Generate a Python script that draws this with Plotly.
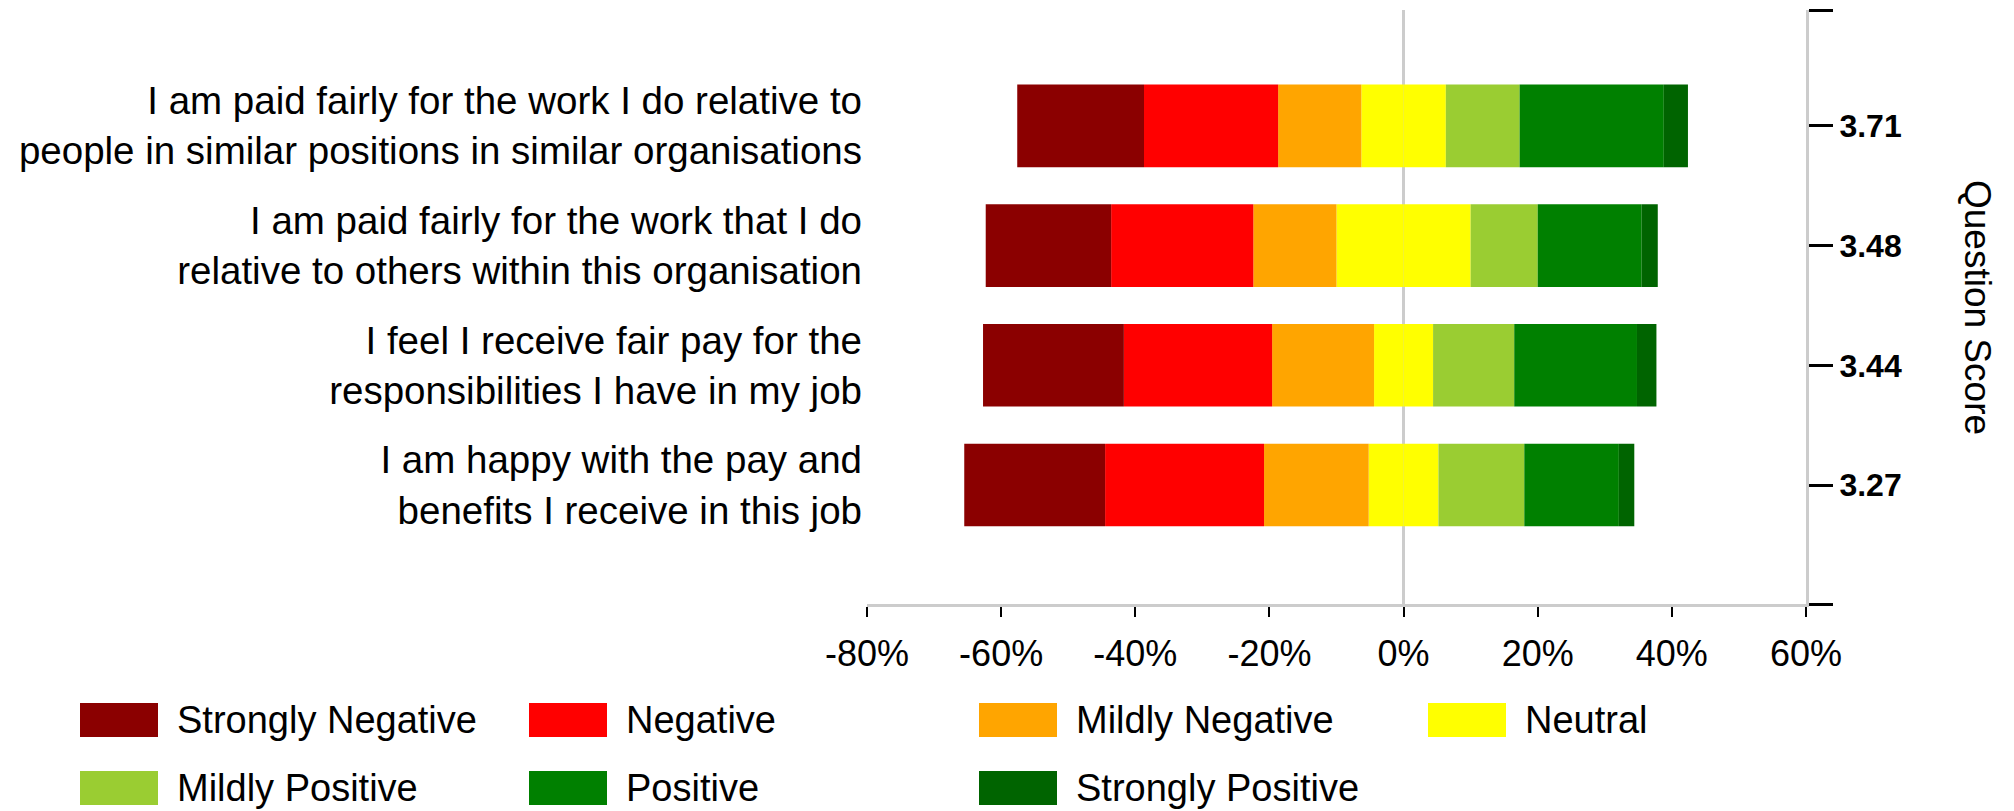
import plotly.graph_objects as go

# Survey questions, listed bottom to top
questions = [
    "I am happy with the pay and<br>benefits I receive in this job",
    "I feel I receive fair pay for the<br>responsibilities I have in my job",
    "I am paid fairly for the work that I do<br>relative to others within this organisation",
    "I am paid fairly for the work I do relative to<br>people in similar positions in similar organisations",
]
scores = ["3.27", "3.44", "3.48", "3.71"]

# Response shares (%) per question, same order as `questions`
strongly_negative = [21.0, 21.0, 18.7, 18.9]
negative = [23.7, 22.1, 21.2, 20.0]
mildly_negative = [15.6, 15.2, 12.4, 12.4]
neutral = [10.4, 8.8, 20.0, 12.6]
mildly_positive = [12.8, 12.1, 10.0, 11.0]
positive = [14.1, 18.3, 15.5, 21.5]
strongly_positive = [2.3, 2.9, 2.4, 3.6]

x_ticks = [-80, -60, -40, -20, 0, 20, 40, 60]

names = ["Strongly Negative", "Negative", "Mildly Negative", "Neutral",
         "Mildly Positive", "Positive", "Strongly Positive"]
colors = ["#8B0000", "#FF0000", "#FFA500", "#FFFF00",
          "#9ACD32", "#008000", "#006400"]

FONT = "Liberation Sans, Arial, sans-serif"
W, H = 2014, 811
L, R, T, B = 867, 208, 10, 207
PW, PH = W - L - R, H - T - B
Y_RANGE = [-0.994, 3.968]


def px_x(px):
    return (px - L) / PW


def px_y(py):
    return (T + PH - py) / PH


fig = go.Figure()
BW = 0.69

# Negative side: stacked outward from zero (neutral half first)
neg_series = [
    (neutral, colors[3], 0.5),
    (mildly_negative, colors[2], 1.0),
    (negative, colors[1], 1.0),
    (strongly_negative, colors[0], 1.0),
]
for vals, col, frac in neg_series:
    fig.add_trace(go.Bar(
        y=questions, x=[-v * frac for v in vals], orientation="h",
        marker=dict(color=col, line=dict(width=0)), width=BW,
        showlegend=False, hoverinfo="skip"))

# Positive side
pos_series = [
    (neutral, colors[3], 0.5),
    (mildly_positive, colors[4], 1.0),
    (positive, colors[5], 1.0),
    (strongly_positive, colors[6], 1.0),
]
for vals, col, frac in pos_series:
    fig.add_trace(go.Bar(
        y=questions, x=[v * frac for v in vals], orientation="h",
        marker=dict(color=col, line=dict(width=0)), width=BW,
        showlegend=False, hoverinfo="skip"))

# Invisible carrier for the right-hand score axis
fig.add_trace(go.Scatter(
    x=[0, 0, 0, 0], y=list(range(len(scores))), yaxis="y2",
    mode="markers", marker=dict(opacity=0), showlegend=False,
    hoverinfo="skip"))

fig.update_layout(
    width=W, height=H,
    margin=dict(l=L, r=R, t=T, b=B, autoexpand=False),
    barmode="relative",
    plot_bgcolor="white", paper_bgcolor="white",
    font=dict(family=FONT, color="black"),
    xaxis=dict(
        range=[-80, 60], tickvals=x_ticks, ticktext=[f"{v}%" for v in x_ticks],
        ticks="outside", ticklen=10, tickwidth=2, tickcolor="black",
        showline=True, linecolor="#cccccc", linewidth=3,
        zeroline=True, zerolinecolor="#cccccc", zerolinewidth=3,
        showgrid=False, tickfont=dict(size=36, family=FONT),
        ticklabelstandoff=6, fixedrange=True,
    ),
    yaxis=dict(
        type="category", categoryorder="array", categoryarray=questions,
        range=Y_RANGE, showgrid=False, zeroline=False, showline=False,
        ticks="", tickfont=dict(size=38.5, family=FONT),
        ticklabelstandoff=4, automargin=False,
    ),
    yaxis2=dict(
        overlaying="y", side="right", anchor="x",
        range=Y_RANGE, tickvals=[Y_RANGE[0], 0, 1, 2, 3, Y_RANGE[1]],
        ticktext=[""] + scores + [""],
        ticks="outside", ticklen=24, tickwidth=3, tickcolor="black",
        showline=True, linecolor="#cccccc", linewidth=3,
        showgrid=False, zeroline=False,
        tickfont=dict(size=32, family=FONT, weight="bold"),
        ticklabelstandoff=0, automargin=False,
    ),
)

fig.add_annotation(
    text="Question Score", xref="paper", yref="paper",
    x=px_x(1978), y=0.5, showarrow=False, textangle=90,
    font=dict(size=37, family=FONT), xanchor="center", yanchor="middle")

# Legend: large swatches in a 4-column grid
col_x = [80, 529, 979, 1428]
row_y = [720, 788]
for i, (name, col) in enumerate(zip(names, colors)):
    r, c = divmod(i, 4)
    x0 = col_x[c]
    yc = row_y[r]
    fig.add_shape(
        type="rect", xref="paper", yref="paper",
        x0=px_x(x0), x1=px_x(x0 + 78), y0=px_y(yc + 17), y1=px_y(yc - 17),
        fillcolor=col, line=dict(width=0))
    fig.add_annotation(
        text=name, xref="paper", yref="paper",
        x=px_x(x0 + 95), y=px_y(yc), xanchor="left", yanchor="middle",
        showarrow=False, font=dict(size=38, family=FONT))

fig.write_html("out.html")
